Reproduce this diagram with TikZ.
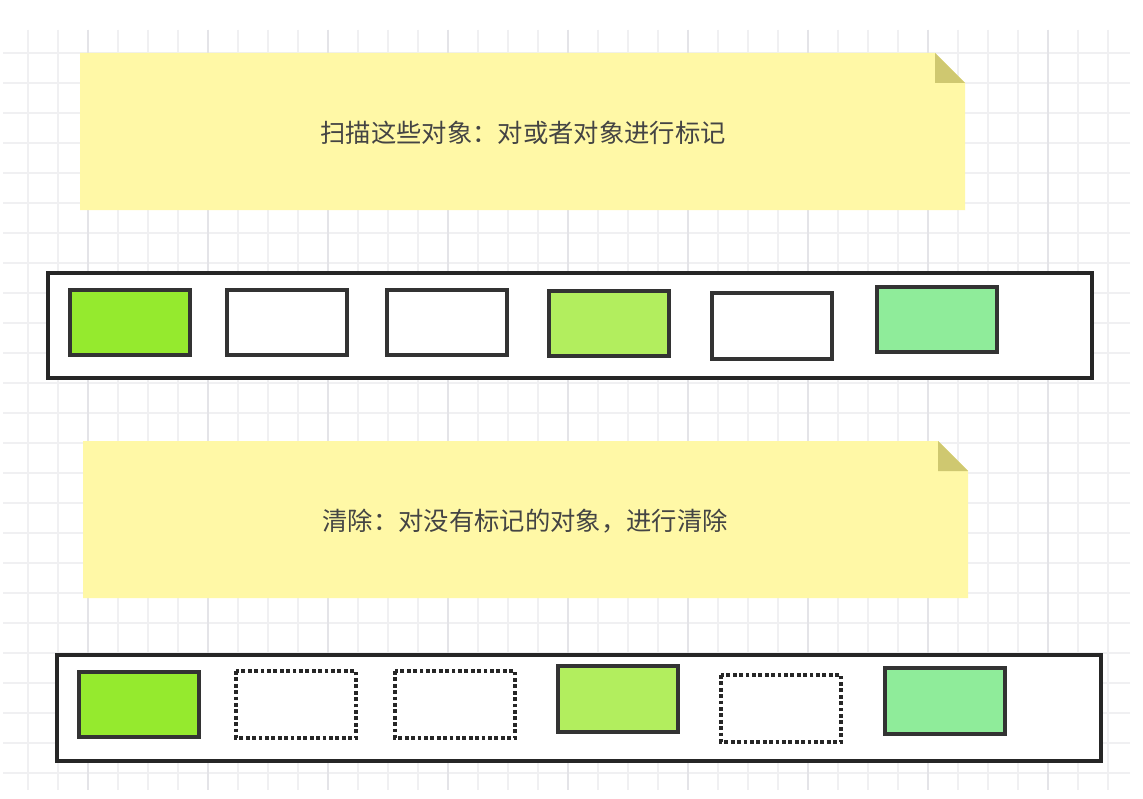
\documentclass[tikz,border=0pt]{standalone}
\usepackage{fontspec}
\newfontfamily\cjk{Noto Sans CJK SC}
\definecolor{note}{HTML}{FFF8A6}
\definecolor{fold}{HTML}{CFC870}
\definecolor{g1}{HTML}{95EA2E}
\definecolor{g2}{HTML}{B2EE5E}
\definecolor{g3}{HTML}{8FEC9A}
\definecolor{gridc}{HTML}{F0F0F2}
\definecolor{gridm}{HTML}{E4E4E8}
\definecolor{txt}{HTML}{444444}
\tikzset{
  cont/.style={draw=black!85,line width=2.3pt,fill=white},
  obj/.style={draw=black!80,line width=2.8pt},
  gone/.style={draw=black!85,line width=2.8pt,dotted},
  lbl/.style={font=\cjk\fontsize{19}{22}\selectfont,text=txt}
}
\begin{document}
\begin{tikzpicture}[x=0.75pt,y=-0.75pt]
\useasboundingbox (0,0) rectangle (1143,799);
\fill[white] (0,0) rectangle (1143,799);
\foreach \x in {28,58,...,1130} \draw[gridc,line width=0.8pt] (\x,30) -- (\x,790);
\foreach \y in {53,83,...,790} \draw[gridc,line width=0.8pt] (3,\y) -- (1130,\y);
\foreach \x in {88,208,...,1130} \draw[gridm,line width=0.8pt] (\x,30) -- (\x,790);
% note 1
\fill[note] (80,53) -- (935,53) -- (965,83) -- (965,210) -- (80,210) -- cycle;
\fill[fold] (935,53) -- (965,83) -- (935,83) -- cycle;
\node[lbl] (t1) at (523,133) {扫描这些对象：对或者对象进行标记};
% row 1
\draw[cont] (48,273) rectangle (1092,378);
\draw[obj,fill=g1] (70,290) rectangle (190,355);
\draw[obj,fill=white] (227,290) rectangle (347,355);
\draw[obj,fill=white] (387,290) rectangle (507,355);
\draw[obj,fill=g2] (549,291) rectangle (669,356);
\draw[obj,fill=white] (712,293) rectangle (832,359);
\draw[obj,fill=g3] (877,287) rectangle (997,352);
% note 2
\fill[note] (83,441) -- (938,441) -- (968,471) -- (968,598) -- (83,598) -- cycle;
\fill[fold] (938,441) -- (968,471) -- (938,471) -- cycle;
\node[lbl] (t2) at (525,521) {清除：对没有标记的对象，进行清除};
% row 2
\draw[cont] (57,655) rectangle (1101,761);
\draw[obj,fill=g1] (79,672) rectangle (199,737);
\draw[gone] (236,671) rectangle (356,738);
\draw[gone] (395,671) rectangle (515,738);
\draw[obj,fill=g2] (558,666) rectangle (678,732);
\draw[gone] (721,675) rectangle (841,742);
\draw[obj,fill=g3] (885,668) rectangle (1005,734);
\end{tikzpicture}
\end{document}
